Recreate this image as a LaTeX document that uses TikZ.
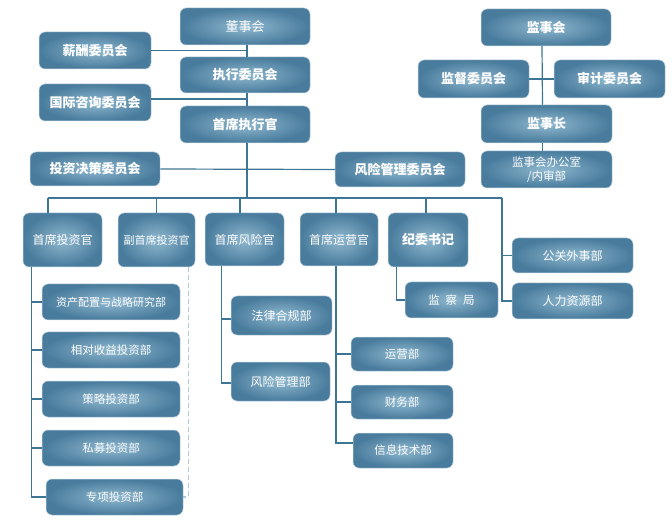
\documentclass[tikz,border=0pt]{standalone}
\usepackage{fontspec}
\setmainfont{Noto Sans CJK SC}
\definecolor{boxdark}{HTML}{487B9C}
\definecolor{boxlight}{HTML}{8FB8CF}
\definecolor{boxedge}{HTML}{C3D5E1}
\definecolor{linkc}{HTML}{3D7594}
\definecolor{dashc}{HTML}{B3C7D6}
\tikzset{
  box/.style={rounded corners=6pt, inner color=boxlight, outer color=boxdark,
    draw=boxedge, line width=0.5pt, text=white, inner sep=0pt, align=center},
  wh/.style 2 args={minimum width=#1pt, minimum height=#2pt},
  head/.style={box, font=\fontsize{13}{15}\selectfont\bfseries},
  chief/.style={box, font=\fontsize{12}{14}\selectfont},
  dept/.style={box, font=\fontsize{11.5}{14}\selectfont},
  link/.style={draw=linkc, line width=1.2pt},
}
\begin{document}
\begin{tikzpicture}[x=1pt,y=-1pt]
\useasboundingbox (0,0) rectangle (672,521);

% board and committees
\node[box, font=\fontsize{13}{15}\selectfont, wh={130}{37}] (dongshi) at (245,26.5) {董事会};
\node[head, wh={112}{37}] (xinchou) at (95,50.5) {薪酬委员会};
\node[head, wh={130}{36}] (zhixing) at (245,75) {执行委员会};
\node[head, wh={112}{37}] (guoji) at (95,102.5) {国际咨询委员会};
\node[head, wh={130}{37}] (ceo) at (245,124.5) {首席执行官};
\node[head, wh={130}{34}] (juece) at (95,169) {投资决策委员会};
\node[head, wh={130}{35}] (fengkong) at (400,169.5) {风险管理委员会};

% supervisors
\node[head, wh={130}{37}] (jianshihui) at (546,27.5) {监事会};
\node[head, wh={111}{38}] (jiandu) at (473.5,79) {监督委员会};
\node[head, wh={111}{38}] (shenji) at (609.5,79) {审计委员会};
\node[head, wh={131}{38}] (jianshizhang) at (546.5,124) {监事长};
\node[dept, wh={131}{37}] (bangong) at (546.5,169.5) {监事会办公室\\/内审部};

% chiefs
\node[chief, wh={79}{54}] (cio) at (62.5,240) {首席投资官};
\node[chief, font=\fontsize{11}{13}\selectfont, wh={77}{54}] (dcio) at (156.5,240) {副首席投资官};
\node[chief, wh={79}{53}] (cro) at (244.5,239.5) {首席风险官};
\node[chief, wh={78}{53}] (coo) at (339,239.5) {首席运营官};
\node[head, wh={80}{54}] (jiwei) at (428,240) {纪委书记};

% departments
\node[dept, font=\fontsize{11}{13}\selectfont, wh={138}{36}] (zichan) at (111,302) {资产配置与战略研究部};
\node[dept, wh={138}{36}] (xiangdui) at (111,350) {相对收益投资部};
\node[dept, wh={138}{36}] (celue) at (111,399) {策略投资部};
\node[dept, wh={138}{36}] (simu) at (111,448) {私募投资部};
\node[dept, wh={137}{36}] (zhuanxiang) at (114.5,497) {专项投资部};
\node[chief, wh={101}{39}] (falv) at (281.5,315.5) {法律合规部};
\node[chief, wh={99}{39}] (fengxianbu) at (280.5,381.5) {风险管理部};
\node[dept, wh={102}{34}] (yunying) at (402,354) {运营部};
\node[dept, wh={102}{34}] (caiwu) at (402,402) {财务部};
\node[dept, wh={100}{35}] (xinxi) at (403,450.5) {信息技术部};
\node[dept, wh={93}{36}] (jiancha) at (451.5,300) {监\hspace{6pt}察\hspace{6pt}局};
\node[chief, wh={121}{35}] (gongguan) at (572.5,255.5) {公关外事部};
\node[chief, wh={121}{36}] (renli) at (572.5,301) {人力资源部};

% connectors
\coordinate (spine) at (247,198);
\coordinate (busL) at (48,198);
\coordinate (busR) at (502,198);
\coordinate (guojiR) at ([yshift=3.5pt]guoji.east);
\draw[link] (dongshi.south -| spine) -- (zhixing.north -| spine);
\draw[link] (zhixing.south -| spine) -- (ceo.north -| spine);
\draw[link] (ceo.south -| spine) -- (spine);
\draw[link] (xinchou.east) -- (xinchou.east -| spine);
\draw[link] (guojiR) -- (guojiR -| spine);
\draw[link] (juece.east) -- (fengkong.west);
\draw[link] (busL) -- (busR);
\draw[link] (busL) -- (busL |- cio.north);
\draw[link] (dcio.north) |- (busL);
\draw[link] ([xshift=-4.5pt]cro.north) |- (busL);
\draw[link] ([xshift=-3pt]coo.north) |- (busL);
\draw[link] ([xshift=-2pt]jiwei.north) |- (busL);
\draw[link] (busR) |- (renli.west);
\draw[link] (gongguan.west) -| (busR);

\draw[link] ([xshift=9pt]cio.south west) |- (zichan.west);
\draw[link] ([xshift=9pt]cio.south west) |- (xiangdui.west);
\draw[link] ([xshift=9pt]cio.south west) |- (celue.west);
\draw[link] ([xshift=9pt]cio.south west) |- (simu.west);
\draw[link] ([xshift=9pt]cio.south west) |- (zhuanxiang.west);
\draw[draw=dashc, line width=1.2pt, dash pattern=on 5pt off 3pt]
  ([xshift=-7pt]dcio.south east) |- (zhuanxiang.east);

\draw[link] ([xshift=17pt]cro.south west) |- ([yshift=-3.5pt]falv.west);
\draw[link] ([xshift=17pt]cro.south west) |- ([yshift=-1.5pt]fengxianbu.west);
\draw[link] ([xshift=-3pt]coo.south) |- (yunying.west);
\draw[link] ([xshift=-3pt]coo.south) |- (caiwu.west);
\draw[link] ([xshift=-3pt]coo.south) |- ([yshift=7.5pt]xinxi.west);
\draw[link] ([xshift=9pt]jiwei.south west) |- (jiancha.west);

\draw[link] ([xshift=-4pt]jianshihui.south) -- ([xshift=-4pt]jianshizhang.north);
\draw[link] ([xshift=-4pt]jianshizhang.south) -- ([xshift=-4pt]bangong.north);
\draw[link] (jiandu.east) -- (shenji.west);
\end{tikzpicture}
\end{document}
